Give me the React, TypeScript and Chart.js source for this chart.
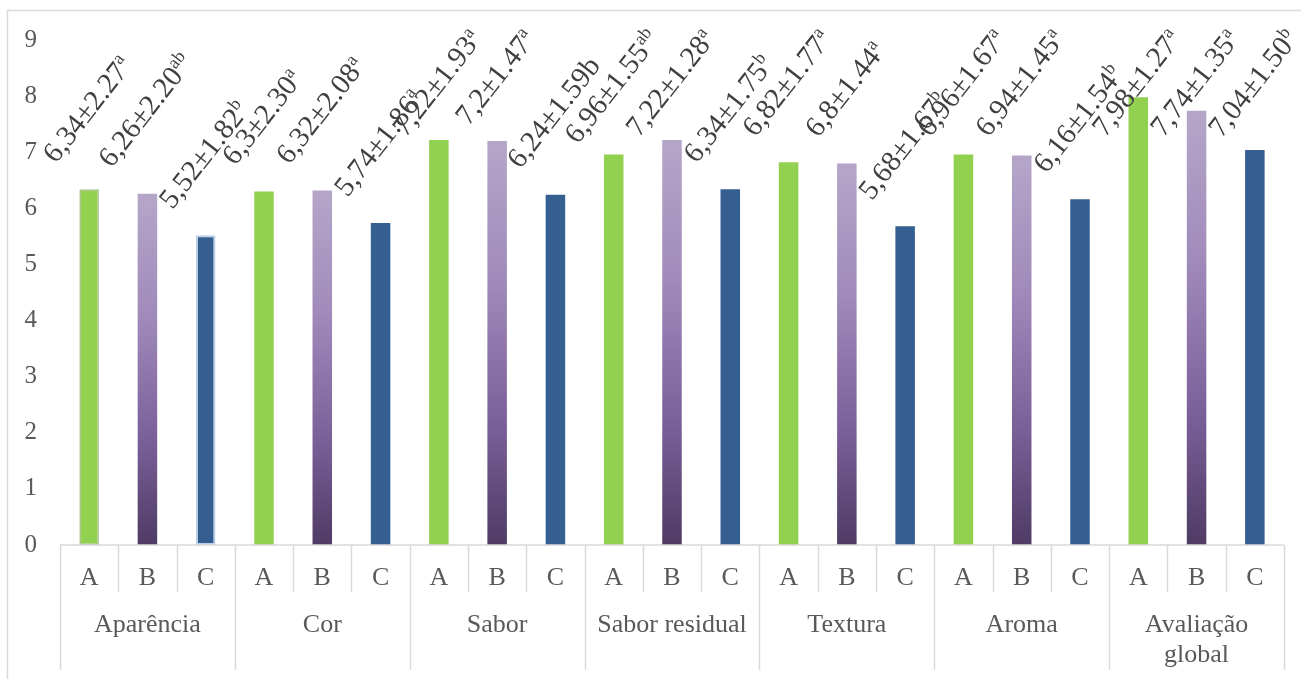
import React, { useEffect, useRef } from "react";
import { Chart, registerables } from "chart.js";

Chart.register(...registerables);

const groups: (string | string[])[] = ["Aparência", "Cor", "Sabor", "Sabor residual", "Textura", "Aroma", ["Avaliação", "global"]];
const subLabels = ["A", "B", "C"];

const valuesA = [6.34, 6.3, 7.22, 6.96, 6.82, 6.96, 7.98];
const valuesB = [6.26, 6.32, 7.2, 7.22, 6.8, 6.94, 7.74];
const valuesC = [5.52, 5.74, 6.24, 6.34, 5.68, 6.16, 7.04];

const labelsA = ["6,34±2.27", "6,3±2.30", "7,22±1.93", "6,96±1.55", "6,82±1.77", "6,96±1.67", "7,98±1.27"];
const supA = ["a", "a", "a", "ab", "a", "a", "a"];
const labelsB = ["6,26±2.20", "6,32±2.08", "7,2±1.47", "7,22±1.28", "6,8±1.44", "6,94±1.45", "7,74±1.35"];
const supB = ["ab", "a", "a", "a", "a", "a", "a"];
const labelsC = ["5,52±1.82", "5,74±1.86", "6,24±1.59b", "6,34±1.75", "5,68±1.67", "6,16±1.54", "7,04±1.50"];
const supC = ["b", "a", "", "b", "b", "b", "b"];

const yMin = 0;
const yMax = 9;
const yStep = 1;

const FONT = "'Liberation Serif', 'Times New Roman', serif";
const GREEN = "#92D050";
const BLUE = "#355F91";

const allLabels = [labelsA, labelsB, labelsC];
const allSups = [supA, supB, supC];

const purpleGradient = (ctx: any) => {
  const chart = ctx.chart;
  const { chartArea, scales } = chart;
  if (!chartArea || ctx.raw === undefined) return "#9d86b6";
  const top = scales.y.getPixelForValue(ctx.raw);
  const bottom = scales.y.getPixelForValue(0);
  const g = chart.ctx.createLinearGradient(0, top, 0, bottom);
  g.addColorStop(0, "#B5A6C9");
  g.addColorStop(0.35, "#A08ABA");
  g.addColorStop(0.7, "#7A6099");
  g.addColorStop(1, "#4F3B64");
  return g;
};

const framePlugin = {
  id: "frame",
  beforeDraw(chart: any) {
    const c = chart.ctx;
    c.save();
    c.fillStyle = "#ffffff";
    c.fillRect(0, 0, chart.width, chart.height);
    c.strokeStyle = "#d9d9d9";
    c.lineWidth = 1.5;
    c.strokeRect(7.5, 10.5, chart.width + 50, chart.height + 50);
    c.restore();
  },
};

const xAxisPlugin = {
  id: "multiAxis",
  afterDatasetsDraw(chart: any) {
    const c = chart.ctx;
    const { left, right, bottom } = chart.chartArea;
    const n = groups.length;
    const gw = (right - left) / n;
    const sw = gw / 3;
    c.save();
    c.strokeStyle = "#d9d9d9";
    c.lineWidth = 1.5;
    c.beginPath();
    c.moveTo(left, bottom);
    c.lineTo(right, bottom);
    for (let k = 0; k <= n * 3; k++) {
      const x = Math.round(left + k * sw) + 0.5;
      c.moveTo(x, bottom);
      c.lineTo(x, k % 3 === 0 ? bottom + 125 : bottom + 47);
    }
    c.stroke();
    c.fillStyle = "#595959";
    c.textAlign = "center";
    c.textBaseline = "middle";
    c.font = `26px ${FONT}`;
    for (let g = 0; g < n; g++) {
      for (let s = 0; s < 3; s++) {
        c.fillText(subLabels[s], left + g * gw + (s + 0.5) * sw, bottom + 33);
      }
      const lbl = groups[g];
      const lines = Array.isArray(lbl) ? lbl : [lbl];
      lines.forEach((t, i) => {
        c.fillText(t, left + (g + 0.5) * gw, bottom + 80 + i * 30);
      });
    }
    c.restore();
  },
};

const dataLabelPlugin = {
  id: "rotLabels",
  afterDatasetsDraw(chart: any) {
    const c = chart.ctx;
    const fs = 29;
    const sfs = 18;
    const ang = (52 * Math.PI) / 180;
    const cs = Math.cos(ang);
    const sn = Math.sin(ang);
    const a = 0.68 * fs;
    const d = 0.2 * fs;
    c.save();
    c.fillStyle = "#404040";
    c.textBaseline = "alphabetic";
    c.textAlign = "left";
    for (let ds = 0; ds < 3; ds++) {
      const meta = chart.getDatasetMeta(ds);
      meta.data.forEach((el: any, i: number) => {
        const main = allLabels[ds][i];
        const sup = allSups[ds][i];
        c.font = `${fs}px ${FONT}`;
        const wm = c.measureText(main).width;
        c.font = `${sfs}px ${FONT}`;
        const ws = sup ? c.measureText(sup).width : 0;
        const W = wm + ws;
        const x0 = el.x - (cs * W + sn * (d - a)) / 2;
        let y0 = el.y - 25;
        const minY = 27 + sn * W + cs * a;
        if (y0 < minY) y0 = minY;
        c.save();
        c.translate(x0, y0);
        c.rotate(-ang);
        c.font = `${fs}px ${FONT}`;
        c.fillText(main, 0, 0);
        if (sup) {
          c.font = `${sfs}px ${FONT}`;
          c.fillText(sup, wm, -0.36 * fs);
        }
        c.restore();
      });
    }
    c.restore();
  },
};

export default function App() {
  const ref = useRef<HTMLCanvasElement | null>(null);
  useEffect(() => {
    if (!ref.current) return;
    const chart = new Chart(ref.current, {
      type: "bar",
      data: {
        labels: groups.map((g) => (Array.isArray(g) ? g.join(" ") : g)),
        datasets: [
          {
            label: "A",
            data: valuesA,
            backgroundColor: GREEN,
            borderColor: valuesA.map((_, i) => (i === 0 ? "rgba(110,140,60,0.6)" : GREEN)),
            borderWidth: valuesA.map((_, i) => (i === 0 ? 1.5 : 0)),
            borderSkipped: false,
            categoryPercentage: 1,
            barPercentage: 0.335,
          },
          {
            label: "B",
            data: valuesB,
            backgroundColor: purpleGradient as any,
            borderWidth: 0,
            categoryPercentage: 1,
            barPercentage: 0.335,
          },
          {
            label: "C",
            data: valuesC,
            backgroundColor: BLUE,
            borderColor: valuesC.map((_, i) => (i === 0 ? "#BCD0E8" : BLUE)),
            borderWidth: valuesC.map((_, i) => (i === 0 ? 2 : 0)),
            borderSkipped: false,
            categoryPercentage: 1,
            barPercentage: 0.335,
          },
        ],
      },
      options: {
        responsive: false,
        maintainAspectRatio: false,
        animation: false,
        layout: { padding: { top: 40, right: 17, left: 0, bottom: 0 } },
        plugins: {
          legend: { display: false },
          tooltip: { enabled: false },
        },
        scales: {
          x: {
            grid: { display: false, drawTicks: false },
            border: { display: false },
            ticks: { display: false },
            afterFit: (s: any) => {
              s.height = 134;
            },
          },
          y: {
            min: yMin,
            max: yMax,
            grid: { display: false, drawTicks: false },
            border: { display: false },
            ticks: {
              stepSize: yStep,
              padding: 23,
              color: "#595959",
              font: { family: FONT, size: 25 },
            },
            afterFit: (s: any) => {
              s.width = 60;
            },
          },
        },
      },
      plugins: [framePlugin, xAxisPlugin, dataLabelPlugin],
    });
    return () => chart.destroy();
  }, []);
  return (
    <div style={{ position: "absolute", left: 0, top: 0, width: 1301, height: 679 }}>
      <canvas ref={ref} width={1301} height={679} style={{ display: "block" }} />
    </div>
  );
}
